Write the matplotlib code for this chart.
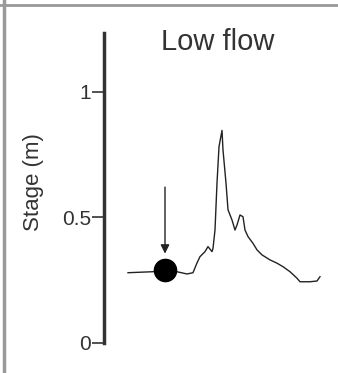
import numpy as np
import matplotlib.pyplot as plt
from matplotlib.lines import Line2D

plt.rcParams['font.family'] = ['Liberation Sans', 'DejaVu Sans']

# stage record (time in arbitrary units, stage in m)
time = [24, 49, 61, 74, 83, 89, 93, 96, 101, 104, 108, 109, 111, 113, 115,
        118, 119, 122, 124, 128, 131, 133, 136, 139, 141, 144, 149, 153,
        158, 166, 173, 179, 186, 193, 196, 206, 213, 216]
stage = [0.280, 0.284, 0.291, 0.283, 0.275, 0.280, 0.319, 0.344, 0.364,
         0.384, 0.364, 0.377, 0.450, 0.637, 0.782, 0.847, 0.769, 0.637,
         0.531, 0.490, 0.450, 0.470, 0.510, 0.503, 0.450, 0.424, 0.397,
         0.371, 0.351, 0.331, 0.318, 0.304, 0.284, 0.258, 0.244, 0.244,
         0.247, 0.264]
sample_t = 61
sample_stage = 0.291
yticks = [0, 0.5, 1]
yticklabels = ['0', '0.5', '1']

fig = plt.figure(figsize=(3.38, 3.73), dpi=100)
ax = fig.add_axes([104 / 338, 30 / 373, 226 / 338, 310 / 373])

ax.plot(time, stage, color='#222222', lw=1.0)
ax.plot(sample_t, sample_stage, 'o', color='black', ms=16)
ax.annotate('', xy=(sample_t, sample_stage + 0.065), xytext=(sample_t, sample_stage + 0.33),
            arrowprops=dict(arrowstyle='-|>', color='#222222', lw=1.0,
                            mutation_scale=13, shrinkA=0, shrinkB=0))

ax.set_xlim(0, 226)
ax.set_ylim(0, 1.235)
ax.set_yticks(yticks)
ax.set_yticklabels(yticklabels, fontsize=15, color='#333333')
ax.tick_params(axis='y', direction='out', length=9, width=1.2, color='#333333', pad=0.5)
ax.set_xticks([])
for s in ['top', 'right', 'bottom']:
    ax.spines[s].set_visible(False)
ax.spines['left'].set_linewidth(2.5)
ax.spines['left'].set_color('#333333')

ax.set_ylabel('Stage (m)', fontsize=16, color='#333333')
ax.yaxis.set_label_coords(-0.265, 0.52)
fig.text(218 / 338, 1 - 42 / 373, 'Low flow', fontsize=21, color='#333333',
         ha='center', va='center')

# grey frame at top and left edge
fig.add_artist(Line2D([0, 1], [1 - 4.5 / 373] * 2, color='#999999', lw=2.0))
fig.add_artist(Line2D([3.5 / 338] * 2, [0, 1], color='#999999', lw=2.5))

fig.savefig('out.png', dpi=100)
